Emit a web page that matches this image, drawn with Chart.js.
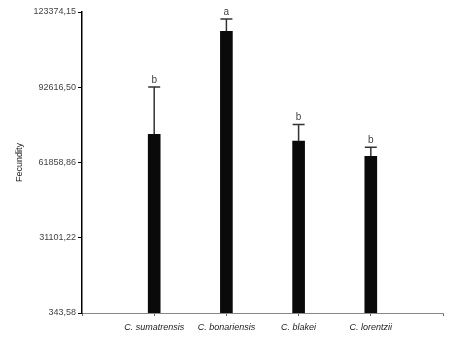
<!DOCTYPE html>
<html>
<head>
<meta charset="utf-8">
<script src="https://cdn.jsdelivr.net/npm/chart.js@4/dist/chart.umd.min.js"></script>
<style>
  html, body { margin: 0; padding: 0; background: #fff; }
  #wrap { width: 464px; height: 342px; position: relative; }
</style>
</head>
<body>
<div id="wrap"><canvas id="fecChart"></canvas></div>
<script>
// Dữ liệu
const species = ['C. sumatrensis', 'C. bonariensis', 'C. blakei', 'C. lorentzii'];
const meanValues = [73360, 115490, 70620, 64380];
const upperValues = [92700, 120510, 77440, 68050];
const groupLetters = ['b', 'a', 'b', 'b'];
const yTicks = [343.58, 31101.22, 61858.86, 92616.50, 123374.15];

// Thêm ô trống hai đầu trục X
const xLabels = [''].concat(species, ['']);
const barData = [null].concat(meanValues, [null]);

function fmt(v) {
  return v.toFixed(2).replace('.', ',');
}

// Plugin vẽ thanh sai số và chữ cái
const errorBars = {
  id: 'errorBars',
  afterDatasetsDraw(chart) {
    const ctx = chart.ctx;
    const x = chart.scales.x;
    const y = chart.scales.y;
    ctx.save();
    ctx.strokeStyle = '#333';
    ctx.lineWidth = 1.5;
    ctx.fillStyle = '#444';
    ctx.font = '10px "Liberation Sans", Arial, sans-serif';
    ctx.textAlign = 'center';
    ctx.textBaseline = 'bottom';
    species.forEach((s, i) => {
      const px = x.getPixelForValue(i + 1);
      const top = y.getPixelForValue(meanValues[i]);
      const cap = y.getPixelForValue(upperValues[i]);
      ctx.beginPath();
      ctx.moveTo(px, top);
      ctx.lineTo(px, cap);
      ctx.moveTo(px - 6, cap);
      ctx.lineTo(px + 6, cap);
      ctx.stroke();
      ctx.fillText(groupLetters[i], px, cap - 2);
    });
    ctx.restore();
  }
};

new Chart(document.getElementById('fecChart'), {
  type: 'bar',
  data: {
    labels: xLabels,
    datasets: [{
      data: barData,
      backgroundColor: '#0a0a0a',
      borderColor: '#0a0a0a',
      barThickness: 12
    }]
  },
  options: {
    responsive: true,
    maintainAspectRatio: false,
    animation: false,
    layout: { padding: { top: 12, right: 21, left: 0, bottom: 0 } },
    plugins: {
      legend: { display: false },
      tooltip: { enabled: false }
    },
    scales: {
      x: {
        offset: false,
        grid: { offset: false, drawOnChartArea: false, tickLength: 3, color: '#666' },
        border: { color: '#888', width: 1 },
        ticks: {
          autoSkip: false,
          maxRotation: 0,
          color: '#222',
          padding: 6,
          font: { family: '"Liberation Sans", Arial, sans-serif', size: 9, style: 'italic' }
        },
        afterFit: function (s) { s.height = 29; }
      },
      y: {
        min: yTicks[0],
        max: yTicks[yTicks.length - 1],
        afterBuildTicks: function (s) {
          s.ticks = yTicks.map(v => ({ value: v }));
        },
        grid: { drawOnChartArea: false, tickLength: 4, color: '#000' },
        border: { color: '#000', width: 1.5 },
        ticks: {
          color: '#444',
          padding: 2,
          font: { family: '"Liberation Sans", Arial, sans-serif', size: 9 },
          callback: function (v) { return fmt(v); }
        },
        title: {
          display: true,
          text: 'Fecundity',
          color: '#222',
          padding: { top: 14, bottom: 0 },
          font: { family: '"Liberation Sans", Arial, sans-serif', size: 9 }
        },
        afterFit: function (s) { s.width = 82; }
      }
    }
  },
  plugins: [errorBars]
});
</script>
</body>
</html>
